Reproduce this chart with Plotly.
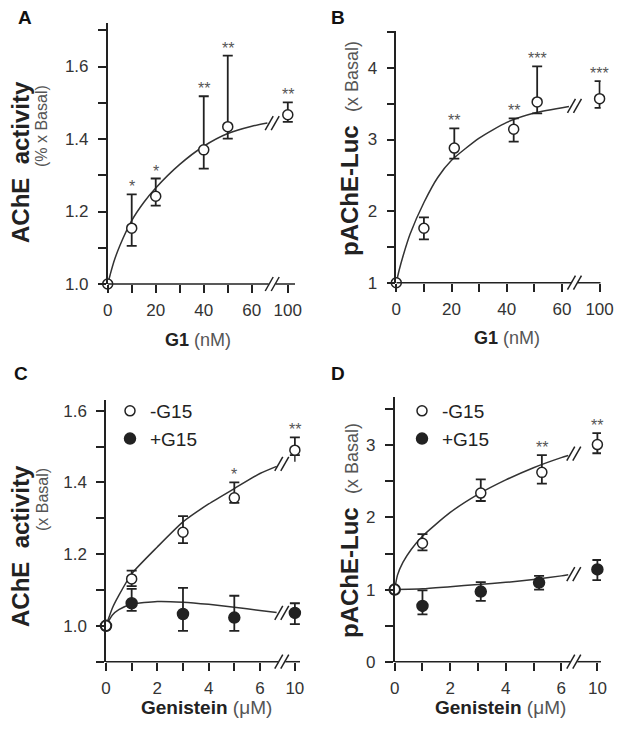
import numpy as np
import plotly.graph_objects as go

FONT = "Liberation Sans, Arial, sans-serif"
AX = "#222"
SUB = "#555"

# ---- A: AChE activity vs G1 (nM)
a_conc = [0, 10, 20, 40, 50, 100]
a_mean = [1.0, 1.154, 1.242, 1.370, 1.434, 1.467]
a_up = [0, 0.093, 0.049, 0.148, 0.196, 0.034]
a_dn = [0, 0.049, 0.026, 0.052, 0.033, 0.020]
a_sig = ['', '*', '*', '**', '**', '**']
a_fit_x = [0, 1, 2.5, 5, 10, 15, 20, 30, 40, 50, 60, 66.5]
a_fit_y = [1.0, 1.025, 1.06, 1.105, 1.175, 1.225, 1.265, 1.33, 1.38, 1.415, 1.435, 1.444]

# ---- B: pAChE-Luc vs G1 (nM)
b_conc = [0, 10, 21, 42.5, 51, 100]
b_mean = [1.0, 1.760, 2.880, 3.143, 3.525, 3.571]
b_up = [0, 0.152, 0.277, 0.152, 0.498, 0.245]
b_dn = [0, 0.156, 0.147, 0.173, 0.161, 0.129]
b_sig = ['', '', '**', '**', '***', '***']
b_fit_x = [0, 1, 2.5, 5, 10, 15, 20, 30, 40, 50, 62.5]
b_fit_y = [1.0, 1.17, 1.38, 1.68, 2.12, 2.47, 2.71, 3.02, 3.24, 3.37, 3.46]
b_tail_x = [66.5, 100]
b_tail_y = [3.48, 3.53]

# ---- C: AChE activity vs Genistein (uM)
gen_conc = [0, 1, 3, 5, 10]
c_minus = [1.0, 1.131, 1.261, 1.357, 1.490]
c_minus_up = [0, 0.023, 0.045, 0.043, 0.036]
c_minus_dn = [0, 0.020, 0.030, 0.014, 0.014]
c_minus_sig = ['', '', '', '*', '**']
c_plus = [1.0, 1.063, 1.033, 1.023, 1.036]
c_plus_up = [0, 0.040, 0.073, 0.061, 0.027]
c_plus_dn = [0, 0.021, 0.047, 0.037, 0.031]
c_minus_fit_x = [0, 0.25, 0.5, 1, 2, 3, 4, 5, 6, 6.65]
c_minus_fit_y = [1.0, 1.05, 1.085, 1.145, 1.22, 1.29, 1.34, 1.383, 1.425, 1.445]
c_minus_tail_x = [7.05, 10]
c_minus_tail_y = [1.458, 1.475]
c_plus_fit_x = [0, 0.25, 0.5, 1, 2, 3, 4, 5, 6, 6.65]
c_plus_fit_y = [1.0, 1.03, 1.045, 1.06, 1.068, 1.066, 1.06, 1.052, 1.043, 1.037]
c_plus_tail_x = [7.05, 10]
c_plus_tail_y = [1.035, 1.036]

# ---- D: pAChE-Luc vs Genistein (uM)
d_minus_conc = [0, 1, 3.1, 5.3, 10]
d_minus = [1.0, 1.643, 2.338, 2.625, 3.010]
d_minus_up = [0, 0.127, 0.19, 0.24, 0.16]
d_minus_dn = [0, 0.10, 0.11, 0.155, 0.12]
d_minus_sig = ['', '', '', '**', '**']
d_plus_conc = [0, 1, 3.1, 5.2, 10]
d_plus = [1.0, 0.773, 0.972, 1.097, 1.280]
d_plus_up = [0, 0.217, 0.13, 0.093, 0.13]
d_plus_dn = [0, 0.116, 0.13, 0.097, 0.15]
d_minus_fit_x = [0, 0.1, 0.3, 0.6, 1, 2, 3, 4, 5, 6, 6.25]
d_minus_fit_y = [1.0, 1.2, 1.38, 1.56, 1.74, 2.07, 2.32, 2.52, 2.69, 2.83, 2.86]
d_minus_tail_x = [6.65, 10]
d_minus_tail_y = [2.91, 2.99]
d_plus_fit_x = [0, 1, 2, 3, 4, 5, 6, 6.25]
d_plus_fit_y = [1.0, 1.01, 1.04, 1.07, 1.10, 1.14, 1.19, 1.205]
d_plus_tail_x = [6.65, 10]
d_plus_tail_y = [1.225, 1.27]

# page body has an 8px margin, so the figure is 16px smaller than the window
W, H, OFF = 622, 713, 8


def px(x):
    return (x - OFF) / W


def py(y):
    return 1 - (y - OFF) / H


# broken x axis: linear up to `lin`, then the last dose sits at `far`
panels = {
    'A': dict(xa='x', ya='y', xdom=[px(107.7), px(295)], ydom=[py(284), py(23)], xr=[0, 78], yr=[1.0, 1.72],
              lin=60, far=75, brk=68.5,
              xt=[0, 10, 20, 30, 40, 50, 60, 100], xl=['0', '', '20', '', '40', '', '60', '100'],
              yt=[1.0, 1.1, 1.2, 1.3, 1.4, 1.5, 1.6, 1.7], yl=['1.0', '', '1.2', '', '1.4', '', '1.6', '']),
    'B': dict(xa='x2', ya='y2', xdom=[px(396.3), px(600.7)], ydom=[py(282.7), py(30.7)], xr=[0, 74], yr=[1.0, 4.52],
              lin=60, far=73.6, brk=64.5,
              xt=[0, 10, 20, 30, 40, 50, 60, 100], xl=['0', '', '20', '', '40', '', '60', '100'],
              yt=[1, 1.5, 2, 2.5, 3, 3.5, 4, 4.5], yl=['1', '', '2', '', '3', '', '4', '']),
    'C': dict(xa='x3', ya='y3', xdom=[px(106), px(300)], ydom=[py(661.7), py(400)], xr=[0, 7.56], yr=[0.9, 1.63],
              lin=6, far=7.36, brk=6.85,
              xt=[0, 1, 2, 3, 4, 5, 6, 10], xl=['0', '', '2', '', '4', '', '6', '10'],
              yt=[0.9, 1.0, 1.1, 1.2, 1.3, 1.4, 1.5, 1.6], yl=['', '1.0', '', '1.2', '', '1.4', '', '1.6']),
    'D': dict(xa='x4', ya='y4', xdom=[px(394.7), px(601)], ydom=[py(661.7), py(397)], xr=[0, 7.43], yr=[0, 3.67],
              lin=6, far=7.3, brk=6.45,
              xt=[0, 1, 2, 3, 4, 5, 6, 10], xl=['0', '', '2', '', '4', '', '6', '10'],
              yt=[0, 0.5, 1, 1.5, 2, 2.5, 3, 3.5], yl=['0', '', '1', '', '2', '', '3', '']),
}


def pos(p, xs):
    return [x if x <= p['lin'] else p['far'] for x in xs]


fig = go.Figure()
shapes = []
annotations = []


def add_points(p, conc, mean, up, dn, filled, sig=None, name=None, legend=None, rank=None):
    xs = pos(p, conc)
    fig.add_trace(go.Scatter(
        x=xs, y=mean, mode='markers', xaxis=p['xa'], yaxis=p['ya'], cliponaxis=False,
        marker=dict(symbol='circle', size=11 if filled else 10,
                    color=AX if filled else 'white', line=dict(color=AX, width=1.5)),
        error_y=dict(type='data', symmetric=False, array=up, arrayminus=dn,
                     color=AX, thickness=1.8, width=5),
        name=name, showlegend=name is not None, legend=legend, legendrank=rank))
    if sig:
        for x, m, u, s in zip(xs, mean, up, sig):
            if s:
                annotations.append(dict(x=x, y=m + u, xref=p['xa'], yref=p['ya'], text=s,
                                        showarrow=False, xanchor='center', yanchor='bottom', yshift=-3,
                                        font=dict(size=16, color=SUB, family=FONT)))


def slash(xref, yref, x, y):
    for dx in (-3, 3):
        shapes.append(dict(type='line', xref=xref, yref=yref, xsizemode='pixel', ysizemode='pixel',
                           xanchor=x, yanchor=y, x0=dx - 4, x1=dx + 4, y0=-7, y1=7,
                           line=dict(color=AX, width=1.5)))


def add_fit(p, fx, fy, tx=None, ty=None):
    fig.add_trace(go.Scatter(x=fx, y=fy, mode='lines', xaxis=p['xa'], yaxis=p['ya'], showlegend=False,
                             line=dict(color='#333', width=1.5, shape='spline', smoothing=0.6)))
    yb = fy[-1]
    if tx:
        fig.add_trace(go.Scatter(x=pos(p, tx), y=ty, mode='lines', xaxis=p['xa'], yaxis=p['ya'],
                                 showlegend=False, line=dict(color='#333', width=1.5)))
        yb = (fy[-1] + ty[0]) / 2
    slash(p['xa'], p['ya'], p['brk'], yb)


pA, pB, pC, pD = panels['A'], panels['B'], panels['C'], panels['D']

add_fit(pA, a_fit_x, a_fit_y)
add_points(pA, a_conc, a_mean, a_up, a_dn, False, a_sig)

add_fit(pB, b_fit_x, b_fit_y, b_tail_x, b_tail_y)
add_points(pB, b_conc, b_mean, b_up, b_dn, False, b_sig)

add_fit(pC, c_plus_fit_x, c_plus_fit_y, c_plus_tail_x, c_plus_tail_y)
add_fit(pC, c_minus_fit_x, c_minus_fit_y, c_minus_tail_x, c_minus_tail_y)
add_points(pC, gen_conc, c_plus, c_plus_up, c_plus_dn, True, name='+G15', legend='legend', rank=2)
add_points(pC, gen_conc, c_minus, c_minus_up, c_minus_dn, False, c_minus_sig, name='-G15', legend='legend', rank=1)

add_fit(pD, d_plus_fit_x, d_plus_fit_y, d_plus_tail_x, d_plus_tail_y)
add_fit(pD, d_minus_fit_x, d_minus_fit_y, d_minus_tail_x, d_minus_tail_y)
add_points(pD, d_plus_conc, d_plus, d_plus_up, d_plus_dn, True, name='+G15', legend='legend2', rank=2)
add_points(pD, d_minus_conc, d_minus, d_minus_up, d_minus_dn, False, d_minus_sig, name='-G15', legend='legend2', rank=1)

layout_axes = {}
for key, p in panels.items():
    xname = 'xaxis' + p['xa'][1:]
    yname = 'yaxis' + p['ya'][1:]
    layout_axes[xname] = dict(
        domain=p['xdom'], range=p['xr'], anchor=p['ya'], showline=False, showgrid=False, zeroline=False,
        tickmode='array', tickvals=pos(p, p['xt']), ticktext=p['xl'], ticks='outside', ticklen=8,
        tickwidth=1.5, tickcolor=AX, ticklabelstandoff=3, automargin=False,
        tickfont=dict(size=17, color='#333', family=FONT))
    layout_axes[yname] = dict(
        domain=p['ydom'], range=p['yr'], anchor=p['xa'], showline=True, linecolor=AX, linewidth=1.5,
        showgrid=False, zeroline=False, tickmode='array', tickvals=p['yt'], ticktext=p['yl'],
        ticks='outside', ticklen=8, tickwidth=1.5, tickcolor=AX, ticklabelstandoff=6, automargin=False,
        tickfont=dict(size=17, color='#333', family=FONT))
    # x axis drawn in two pieces around the break
    ppu = (p['xdom'][1] - p['xdom'][0]) * W / (p['xr'][1] - p['xr'][0])
    gap = 3.5 / ppu
    for x0, x1 in ((p['xr'][0], p['brk'] - gap), (p['brk'] + gap, p['xr'][1])):
        shapes.append(dict(type='line', xref=p['xa'], yref=p['ya'] + ' domain', x0=x0, x1=x1, y0=0, y1=0,
                           line=dict(color=AX, width=1.5)))
    slash(p['xa'], p['ya'] + ' domain', p['brk'], 0)


def note(x, y, text, size, color='#222', angle=0):
    annotations.append(dict(x=px(x), y=py(y), xref='paper', yref='paper', text=text,
                            textangle=angle, showarrow=False, xanchor='center', yanchor='middle',
                            borderpad=0, font=dict(size=size, color=color, family=FONT)))


# panel letters and axis titles
for txt, x, y in (('A', 25, 17), ('B', 338, 17), ('C', 21, 373), ('D', 338, 373)):
    note(x, y, '<b>%s</b>' % txt, 19, '#111')

for x, y in ((20, 162), (20, 546)):
    note(x, y, '<b>AChE  activity</b>', 24, angle=-90)
for txt, x, y in (('(% x Basal)', 42, 126), ('(x Basal)', 42, 500)):
    note(x, y, txt, 16, SUB, angle=-90)
for x, y in ((349, 149), (349, 531)):
    note(x, y, "<b>pAChE-Luc</b>  <span style='font-size:18px;color:#555'>(x Basal)</span>", 24, angle=-90)
for x, y in ((198, 340), (507, 338)):
    note(x, y, '<b>G1</b> <span style="color:#555">(nM)</span>', 18)
for x, y in ((206, 707), (500, 707)):
    note(x, y, '<b>Genistein</b> <span style="color:#555">(μM)</span>', 19)

leg = dict(xanchor='left', yanchor='top', bgcolor='rgba(0,0,0,0)', itemwidth=30,
           font=dict(size=19, color='#222', family=FONT))

fig.update_layout(
    width=W, height=H, autosize=False, margin=dict(l=0, r=0, t=0, b=0),
    paper_bgcolor='white', plot_bgcolor='white', font=dict(family=FONT),
    shapes=shapes, annotations=annotations,
    legend=dict(leg, x=px(110), y=py(392)),
    legend2=dict(leg, x=px(402), y=py(392)),
    **layout_axes)

fig.write_html("out.html")
